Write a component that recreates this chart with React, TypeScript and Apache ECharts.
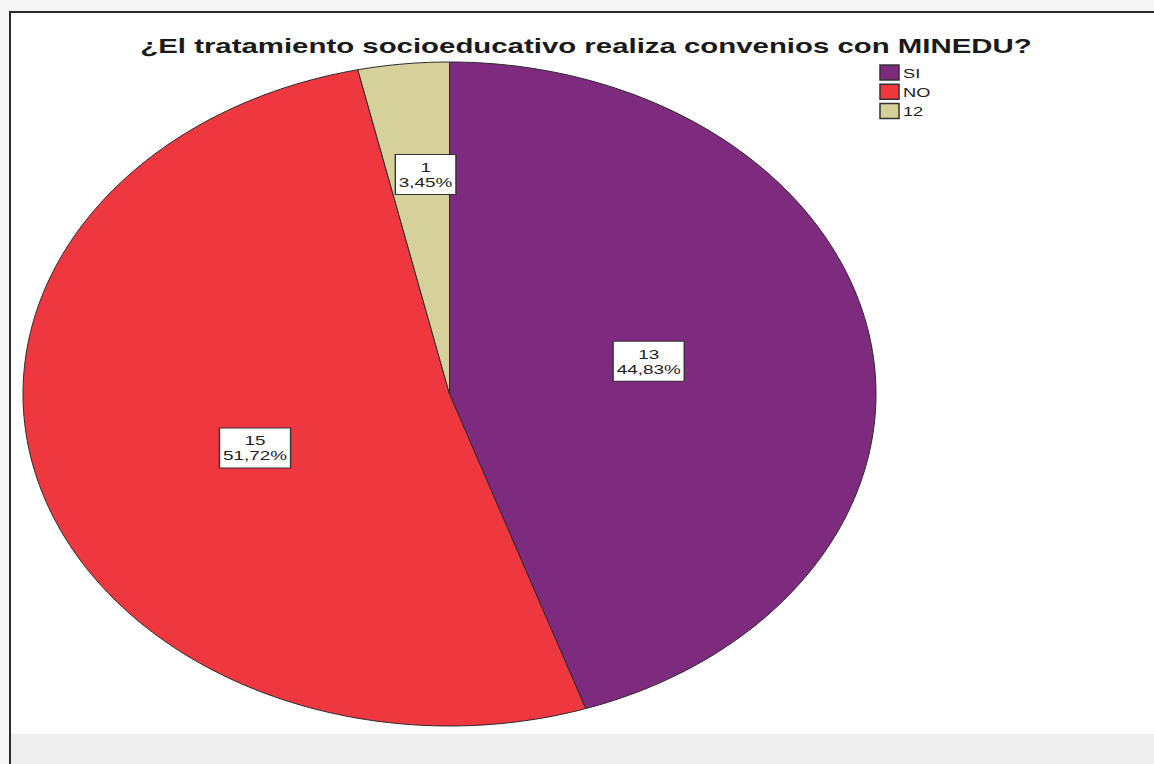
import React, { useEffect, useRef } from "react";
import * as echarts from "echarts";

const TITLE = "¿El tratamiento socioeducativo realiza convenios con MINEDU?";
const categories = ["SI", "NO", "12"];
const counts = [13, 15, 1];
const colors = ["#7e2a7f", "#ee373e", "#d6d09a"];

const FONT = "'Liberation Sans', Arial, sans-serif";
const SX = 1.4; // horizontal stretch of the original picture

export default function App() {
  const ref = useRef<HTMLDivElement>(null);

  useEffect(() => {
    if (!ref.current) return;
    const chart = echarts.init(ref.current, null, { renderer: "svg" });

    const total = counts.reduce((a, b) => a + b, 0);
    const starts: number[] = [];
    let acc = 0;
    counts.forEach((c) => {
      starts.push(acc);
      acc += c;
    });

    const cx = 449.5;
    const cy = 394;
    const rx = 426.5;
    const ry = 332;
    const pt = (t: number, f: number) => [cx + f * rx * Math.sin(t), cy - f * ry * Math.cos(t)];

    const renderItem = (params: any, api: any) => {
      const i = params.dataIndex;
      const v = api.value(0);
      const a0 = (starts[i] / total) * Math.PI * 2;
      const a1 = ((starts[i] + v) / total) * Math.PI * 2;
      const steps = Math.max(2, Math.ceil(((a1 - a0) * 180) / Math.PI));
      const points: number[][] = [[cx, cy]];
      for (let k = 0; k <= steps; k++) {
        points.push(pt(a0 + ((a1 - a0) * k) / steps, 1));
      }
      const share = v / total;
      const mid = (a0 + a1) / 2;
      const d = ry * (share < 0.1 ? 0.665 : 0.608);
      const lx = cx + d * Math.sin(mid);
      const ly = cy - d * Math.cos(mid);
      const pct = (share * 100).toFixed(2).replace(".", ",") + "%";
      return {
        type: "group",
        children: [
          {
            type: "polygon",
            shape: { points },
            style: {
              fill: colors[i],
              stroke: "#2b2b2b",
              lineWidth: 1,
              lineJoin: "round",
            },
          },
          {
            type: "text",
            x: lx,
            y: ly,
            scaleX: SX,
            z2: 10,
            style: {
              text: v + "\n" + pct,
              fontSize: 13.5,
              fontFamily: FONT,
              fill: "#222",
              align: "center",
              verticalAlign: "middle",
              lineHeight: 15,
              backgroundColor: "#ffffff",
              borderColor: "#333",
              borderWidth: 1,
              padding: [5, 2, 4, 2],
            },
          },
        ],
      };
    };

    const legendItems: any[] = [];
    categories.forEach((name, i) => {
      const y = 65 + i * 19.3;
      legendItems.push({
        type: "rect",
        shape: { x: 880, y, width: 19, height: 15 },
        style: { fill: colors[i], stroke: "#333", lineWidth: 1.5 },
        z: 10,
      });
      legendItems.push({
        type: "text",
        x: 903,
        y: y + 8,
        scaleX: SX,
        z: 10,
        style: {
          text: name,
          fontSize: 13,
          fontFamily: FONT,
          fill: "#222",
          align: "left",
          verticalAlign: "middle",
        },
      });
    });

    chart.setOption({
      animation: false,
      backgroundColor: "#f6f6f6",
      graphic: [
        {
          type: "rect",
          shape: { x: 11, y: 12, width: 1143, height: 722 },
          style: { fill: "#ffffff" },
          z: -10,
        },
        {
          type: "rect",
          shape: { x: 11, y: 734, width: 1143, height: 30 },
          style: { fill: "#eeeeee" },
          z: -10,
        },
        {
          type: "line",
          shape: { x1: 10, y1: 12, x2: 1154, y2: 12 },
          style: { stroke: "#2a2a2a", lineWidth: 2 },
          z: 10,
        },
        {
          type: "line",
          shape: { x1: 10, y1: 11, x2: 10, y2: 764 },
          style: { stroke: "#2a2a2a", lineWidth: 2 },
          z: 10,
        },
        {
          type: "text",
          x: 586,
          y: 45.5,
          scaleX: SX,
          z: 10,
          style: {
            text: TITLE,
            fontSize: 21,
            fontWeight: "bold",
            fontFamily: FONT,
            fill: "#1a1a1a",
            align: "center",
            verticalAlign: "middle",
          },
        },
        ...legendItems,
      ],
      series: [
        {
          type: "custom",
          coordinateSystem: "none",
          renderItem,
          data: categories.map((name, i) => ({ name, value: [counts[i]] })),
          z: 2,
        },
      ],
    });

    return () => chart.dispose();
  }, []);

  return (
    <div
      ref={ref}
      style={{ position: "fixed", left: 0, top: 0, width: 1154, height: 764 }}
    />
  );
}
